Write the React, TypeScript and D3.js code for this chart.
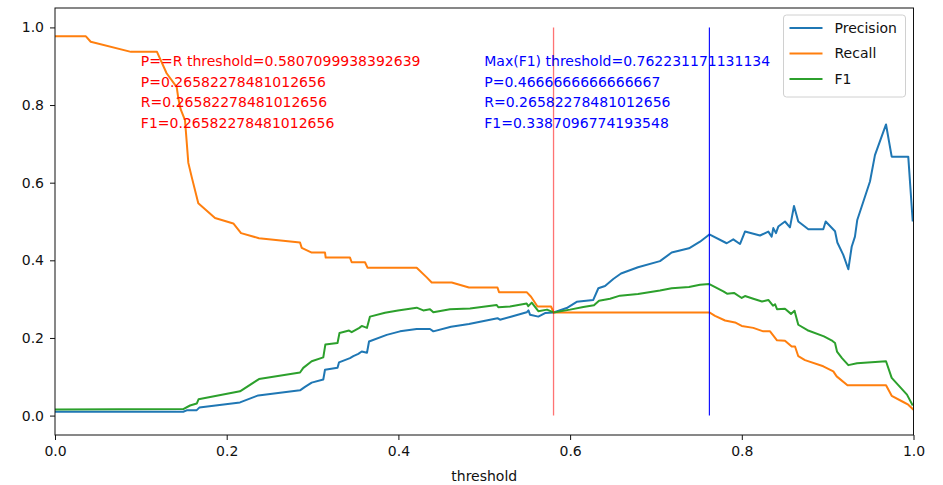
import React, { useEffect, useRef } from "react";
import * as d3 from "d3";

// thresholds and values
const precisionT = [0, 0.1494, 0.1534, 0.1651, 0.1681, 0.2155, 0.2368, 0.2854, 0.2912, 0.299, 0.3125, 0.3145, 0.3291, 0.3308, 0.3436, 0.3475, 0.3533, 0.3573, 0.3634, 0.3658, 0.3864, 0.4019, 0.4213, 0.4368, 0.4407, 0.4613, 0.4822, 0.5154, 0.5183, 0.53, 0.5494, 0.5515, 0.5533, 0.563, 0.5708, 0.5807, 0.596, 0.6077, 0.627, 0.6329, 0.6407, 0.6503, 0.6593, 0.6791, 0.7047, 0.7183, 0.7385, 0.7513, 0.7622, 0.7824, 0.7901, 0.7979, 0.8037, 0.8212, 0.8309, 0.8348, 0.8367, 0.8398, 0.8425, 0.8503, 0.8561, 0.8608, 0.8658, 0.8775, 0.8949, 0.8977, 0.9086, 0.9113, 0.9182, 0.9241, 0.928, 0.9318, 0.9345, 0.9493, 0.9551, 0.968, 0.9746, 0.9939, 0.9991];
const precisionV = [0.01, 0.01, 0.0136, 0.014, 0.0206, 0.034, 0.052, 0.065, 0.074, 0.085, 0.093, 0.118, 0.123, 0.137, 0.148, 0.153, 0.159, 0.165, 0.162, 0.191, 0.208, 0.217, 0.223, 0.223, 0.217, 0.229, 0.236, 0.251, 0.247, 0.254, 0.266, 0.271, 0.26, 0.255, 0.264, 0.2658, 0.277, 0.293, 0.298, 0.328, 0.334, 0.352, 0.366, 0.382, 0.398, 0.42, 0.431, 0.448, 0.4667, 0.444, 0.454, 0.442, 0.474, 0.464, 0.474, 0.461, 0.483, 0.47, 0.487, 0.5, 0.485, 0.54, 0.5, 0.48, 0.48, 0.5, 0.475, 0.446, 0.414, 0.377, 0.435, 0.461, 0.504, 0.603, 0.671, 0.75, 0.667, 0.667, 0.5];

const recallT = [0, 0.036, 0.0416, 0.0885, 0.1188, 0.13, 0.1418, 0.1436, 0.1462, 0.1514, 0.1526, 0.1553, 0.1592, 0.1669, 0.1864, 0.2077, 0.2167, 0.2376, 0.2854, 0.2874, 0.299, 0.3145, 0.3153, 0.3436, 0.3456, 0.3611, 0.364, 0.4213, 0.433, 0.4388, 0.4621, 0.4822, 0.5154, 0.5172, 0.5494, 0.5545, 0.562, 0.5778, 0.5807, 0.7622, 0.7688, 0.7805, 0.7921, 0.7999, 0.8134, 0.825, 0.8329, 0.841, 0.8503, 0.8581, 0.862, 0.8658, 0.8736, 0.8949, 0.9066, 0.9105, 0.9231, 0.968, 0.9746, 0.9881, 0.9939, 1.0];
const recallV = [0.977, 0.977, 0.963, 0.937, 0.937, 0.882, 0.846, 0.818, 0.79, 0.761, 0.728, 0.651, 0.615, 0.547, 0.509, 0.495, 0.47, 0.457, 0.446, 0.432, 0.42, 0.42, 0.407, 0.407, 0.395, 0.395, 0.381, 0.381, 0.356, 0.343, 0.343, 0.33, 0.33, 0.318, 0.318, 0.306, 0.281, 0.281, 0.2658, 0.2658, 0.257, 0.245, 0.24, 0.231, 0.226, 0.217, 0.217, 0.194, 0.193, 0.178, 0.178, 0.153, 0.143, 0.127, 0.114, 0.101, 0.078, 0.078, 0.051, 0.035, 0.028, 0.015];

const f1T = [0, 0.1494, 0.1573, 0.1651, 0.1672, 0.2155, 0.2376, 0.2854, 0.2892, 0.299, 0.3125, 0.3149, 0.3291, 0.3314, 0.3425, 0.3456, 0.3545, 0.3573, 0.3634, 0.3669, 0.3844, 0.3995, 0.4213, 0.429, 0.4368, 0.4407, 0.4601, 0.4834, 0.5145, 0.5164, 0.53, 0.5494, 0.5513, 0.5553, 0.563, 0.5731, 0.5807, 0.5999, 0.6154, 0.6278, 0.6337, 0.6465, 0.6581, 0.6791, 0.7047, 0.7183, 0.7385, 0.7513, 0.7622, 0.7785, 0.7828, 0.7909, 0.7999, 0.8037, 0.8134, 0.8235, 0.8309, 0.8363, 0.8387, 0.841, 0.8503, 0.8573, 0.8614, 0.8658, 0.8765, 0.8957, 0.9045, 0.9086, 0.9109, 0.9167, 0.9241, 0.9342, 0.968, 0.9746, 0.9924, 0.9991];
const f1V = [0.0154, 0.0167, 0.026, 0.031, 0.042, 0.0625, 0.094, 0.111, 0.123, 0.14, 0.15, 0.183, 0.187, 0.213, 0.219, 0.215, 0.226, 0.231, 0.226, 0.255, 0.265, 0.271, 0.278, 0.271, 0.274, 0.266, 0.274, 0.276, 0.285, 0.279, 0.281, 0.289, 0.282, 0.291, 0.269, 0.273, 0.2658, 0.273, 0.28, 0.284, 0.296, 0.301, 0.309, 0.313, 0.322, 0.328, 0.331, 0.337, 0.3387, 0.32, 0.314, 0.316, 0.303, 0.308, 0.301, 0.294, 0.298, 0.283, 0.287, 0.274, 0.275, 0.262, 0.27, 0.234, 0.22, 0.204, 0.194, 0.187, 0.165, 0.148, 0.13, 0.135, 0.14, 0.097, 0.054, 0.026];

const seriesNames = ["Precision", "Recall", "F1"];
const seriesColors = ["#1f77b4", "#ff7f0e", "#2ca02c"];

const xTicks = [0, 0.2, 0.4, 0.6, 0.8, 1.0];
const yTicks = [0, 0.2, 0.4, 0.6, 0.8, 1.0];

const prThreshold = 0.5807099938392639;
const f1Threshold = 0.762231171131134;
const prLines = [
  "P==R threshold=0.5807099938392639",
  "P=0.26582278481012656",
  "R=0.26582278481012656",
  "F1=0.26582278481012656",
];
const f1Lines = [
  "Max(F1) threshold=0.762231171131134",
  "P=0.4666666666666667",
  "R=0.26582278481012656",
  "F1=0.3387096774193548",
];

const W = 943;
const H = 485;
const FONT = "'DejaVu Sans', sans-serif";

const App = () => {
  const ref = useRef<SVGSVGElement>(null);

  useEffect(() => {
    const svg = d3.select(ref.current);
    svg.selectAll("*").remove();

    const margin = { top: 8, right: 29.5, bottom: 50, left: 55 };

    const x = d3.scaleLinear().domain([0, 1]).range([margin.left, W - margin.right]);
    const y = d3.scaleLinear().domain([-0.05, 1.05]).range([H - margin.bottom, margin.top]);

    svg.append("rect").attr("width", W).attr("height", H).attr("fill", "white");

    const line = d3.line<[number, number]>()
      .x(d => x(d[0]))
      .y(d => y(d[1]));

    const series: [number[], number[]][] = [
      [precisionT, precisionV],
      [recallT, recallV],
      [f1T, f1V],
    ];

    series.forEach(([ts, vs], i) => {
      svg.append("path")
        .datum(ts.map((t, j) => [t, vs[j]] as [number, number]))
        .attr("fill", "none")
        .attr("stroke", seriesColors[i])
        .attr("stroke-width", 2)
        .attr("stroke-linejoin", "round")
        .attr("d", line);
    });

    // threshold markers
    svg.append("line")
      .attr("x1", x(prThreshold)).attr("x2", x(prThreshold))
      .attr("y1", y(0)).attr("y2", y(1))
      .attr("stroke", "#ff0000").attr("stroke-opacity", 0.55).attr("stroke-width", 1.3);
    svg.append("line")
      .attr("x1", x(f1Threshold)).attr("x2", x(f1Threshold))
      .attr("y1", y(0)).attr("y2", y(1))
      .attr("stroke", "#0000ff").attr("stroke-width", 1.1);

    const addNote = (lines: string[], tx: number, color: string) => {
      const t = svg.append("text")
        .attr("x", x(tx))
        .attr("y", y(0.9))
        .attr("fill", color)
        .attr("font-family", FONT)
        .attr("font-size", 14);
      lines.forEach((s, i) => {
        t.append("tspan").attr("x", x(tx)).attr("dy", i === 0 ? 0 : 20.5).text(s);
      });
    };
    addNote(prLines, 0.1, "#ff0000");
    addNote(f1Lines, 0.5, "#0000ff");

    // axes
    const xAxis = svg.append("g")
      .attr("transform", `translate(0,${H - margin.bottom})`)
      .call(d3.axisBottom(x).tickValues(xTicks).tickFormat(d3.format(".1f")).tickSize(5).tickPadding(6));
    const yAxis = svg.append("g")
      .attr("transform", `translate(${margin.left},0)`)
      .call(d3.axisLeft(y).tickValues(yTicks).tickFormat(d3.format(".1f")).tickSize(5).tickPadding(6));
    [xAxis, yAxis].forEach(g => {
      g.select(".domain").remove();
      g.selectAll("text").attr("font-family", FONT).attr("font-size", 14).attr("fill", "#111");
      g.selectAll("line").attr("stroke", "#111");
    });

    svg.append("rect")
      .attr("x", margin.left).attr("y", margin.top)
      .attr("width", W - margin.right - margin.left)
      .attr("height", H - margin.bottom - margin.top)
      .attr("fill", "none").attr("stroke", "#111").attr("stroke-width", 1);

    svg.append("text")
      .attr("x", (margin.left + W - margin.right) / 2)
      .attr("y", 481)
      .attr("text-anchor", "middle")
      .attr("font-family", FONT).attr("font-size", 14).attr("fill", "#111")
      .text("threshold");

    // legend
    const lg = svg.append("g").attr("transform", `translate(${W - margin.right - 130},15)`);
    lg.append("rect")
      .attr("width", 122).attr("height", 82).attr("rx", 3)
      .attr("fill", "white").attr("fill-opacity", 0.8)
      .attr("stroke", "#d0d0d0");
    seriesNames.forEach((name, i) => {
      const yy = 13 + i * 25.5;
      lg.append("line")
        .attr("x1", 6).attr("x2", 39).attr("y1", yy).attr("y2", yy)
        .attr("stroke", seriesColors[i]).attr("stroke-width", 2);
      lg.append("text")
        .attr("x", 51).attr("y", yy).attr("dy", "0.35em")
        .attr("font-family", FONT).attr("font-size", 14).attr("fill", "#111")
        .text(name);
    });
  }, []);

  return (
    <svg ref={ref} width={W} height={H} style={{ position: "absolute", left: 0, top: 0 }}></svg>
  );
};

export default App;
